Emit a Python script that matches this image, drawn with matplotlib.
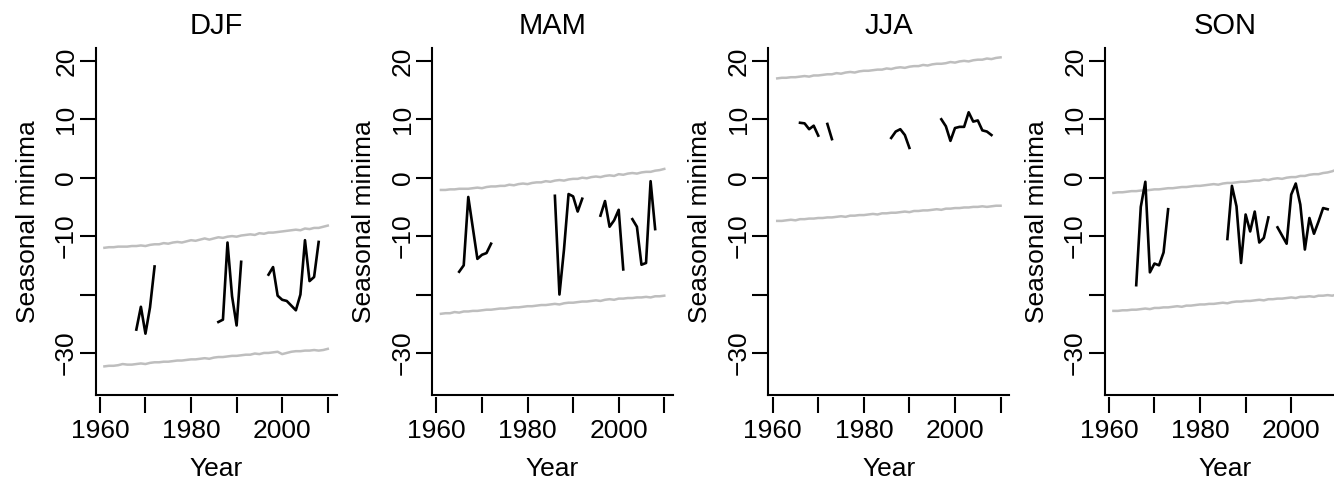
import numpy as np
import matplotlib
matplotlib.use('Agg')
import matplotlib.pyplot as plt

nan = np.nan

years = np.arange(1961, 2011)
seasons = ['DJF', 'MAM', 'JJA', 'SON']

# observed seasonal minima (gaps = missing years)
djf_min = [nan, nan, nan, nan, nan, nan, nan,
           -26.0, -22.1, -26.7, -22.2, -15.2,
           nan, nan, nan, nan, nan, nan, nan, nan, nan, nan, nan, nan, nan,
           -24.7, -24.3, -11.1, -20.3, -25.3, -14.4,
           nan, nan, nan, nan, nan,
           -16.6, -15.3, -20.2, -20.9, -21.1, -21.9, -22.7, -20.0, -10.7, -17.7, -17.0, -11.0,
           nan, nan]
mam_min = [nan, nan, nan, nan,
           -16.1, -15.0, -3.3, -8.6, -13.9, -13.2, -12.9, -11.3,
           nan, nan, nan, nan, nan, nan, nan, nan, nan, nan, nan, nan, nan,
           -3.1, -20.0, -12.3, -2.8, -3.2, -5.8, -3.6,
           nan, nan, nan,
           -6.5, -4.0, -8.4, -7.3, -5.5, -15.7,
           nan,
           -7.1, -8.4, -14.9, -14.6, -0.6, -8.8,
           nan, nan]
jja_min = [nan, nan, nan, nan, nan,
           9.4, 9.3, 8.3, 8.9, 7.2,
           nan,
           9.2, 6.6,
           nan, nan, nan, nan, nan, nan, nan, nan, nan, nan, nan, nan,
           6.8, 7.9, 8.3, 7.3, 5.1,
           nan, nan, nan, nan, nan, nan,
           10.0, 8.8, 6.3, 8.5, 8.7, 8.7, 11.2, 9.6, 9.8, 8.1, 7.9, 7.3,
           nan, nan]
son_min = [nan, nan, nan, nan, nan,
           -18.4, -5.0, -0.7, -16.2, -14.7, -15.0, -12.8, -5.4,
           nan, nan, nan, nan, nan, nan, nan, nan, nan, nan, nan, nan,
           -10.5, -1.4, -4.9, -14.6, -6.3, -9.2, -5.8, -11.1, -10.3, -6.8,
           nan,
           -8.5, -9.9, -11.3, -2.9, -1.0, -4.6, -12.3, -6.9, -9.6, -7.5, -5.2, -5.4,
           nan, nan]

# grey bands (upper / lower bounds)
djf_upper = [-12.0, -11.9, -11.9, -11.8, -11.8, -11.8, -11.7, -11.7, -11.6, -11.7,
             -11.5, -11.4, -11.4, -11.2, -11.3, -11.1, -11.0, -11.1, -10.9, -10.7,
             -10.8, -10.6, -10.4, -10.6, -10.4, -10.2, -10.3, -10.1, -10.0, -10.1,
             -9.9, -9.8, -9.7, -9.8, -9.5, -9.6, -9.4, -9.4, -9.3, -9.2,
             -9.1, -9.0, -8.9, -9.0, -8.7, -8.8, -8.6, -8.6, -8.4, -8.2]
djf_lower = [-32.3, -32.2, -32.2, -32.1, -31.9, -32.0, -32.0, -31.9, -31.8, -31.9,
             -31.7, -31.6, -31.6, -31.5, -31.5, -31.4, -31.3, -31.3, -31.2, -31.1,
             -31.1, -31.0, -30.9, -31.0, -30.8, -30.7, -30.7, -30.6, -30.5, -30.5,
             -30.4, -30.3, -30.3, -30.1, -30.2, -30.0, -30.0, -29.9, -29.8, -30.2,
             -30.0, -29.8, -29.7, -29.7, -29.6, -29.6, -29.5, -29.6, -29.5, -29.3]
mam_upper = [-2.1, -2.1, -2.0, -2.0, -1.9, -1.9, -1.9, -1.8, -1.7, -1.8,
             -1.6, -1.5, -1.5, -1.4, -1.4, -1.2, -1.3, -1.1, -1.0, -1.1,
             -0.9, -0.8, -0.8, -0.6, -0.7, -0.5, -0.4, -0.5, -0.3, -0.2,
             -0.2, 0.0, -0.1, 0.1, 0.2, 0.1, 0.3, 0.4, 0.3, 0.6,
             0.5, 0.7, 0.8, 0.7, 0.9, 1.0, 1.0, 1.2, 1.3, 1.5]
mam_lower = [-23.3, -23.2, -23.2, -23.0, -23.1, -22.9, -22.9, -22.8, -22.8, -22.7,
             -22.6, -22.6, -22.5, -22.4, -22.4, -22.3, -22.2, -22.2, -22.1, -22.0,
             -22.0, -21.9, -21.8, -21.8, -21.7, -21.6, -21.7, -21.5, -21.4, -21.4,
             -21.3, -21.2, -21.2, -21.1, -21.0, -21.1, -20.9, -20.8, -20.9, -20.7,
             -20.7, -20.6, -20.6, -20.5, -20.5, -20.4, -20.5, -20.3, -20.3, -20.2]
jja_upper = [17.0, 17.1, 17.1, 17.2, 17.2, 17.3, 17.4, 17.3, 17.5, 17.5,
             17.6, 17.7, 17.7, 17.9, 17.8, 18.0, 18.1, 18.0, 18.2, 18.3,
             18.3, 18.4, 18.5, 18.5, 18.7, 18.6, 18.8, 18.9, 18.8, 19.0,
             19.1, 19.1, 19.3, 19.2, 19.4, 19.5, 19.5, 19.6, 19.8, 19.7,
             19.9, 20.0, 19.9, 20.1, 20.2, 20.2, 20.4, 20.3, 20.5, 20.6]
jja_lower = [-7.4, -7.4, -7.3, -7.2, -7.3, -7.1, -7.1, -7.0, -7.0, -6.9,
             -6.9, -6.8, -6.8, -6.7, -6.6, -6.7, -6.5, -6.5, -6.4, -6.4,
             -6.3, -6.2, -6.3, -6.1, -6.1, -6.0, -6.0, -5.9, -5.8, -5.9,
             -5.7, -5.7, -5.6, -5.6, -5.5, -5.4, -5.5, -5.3, -5.3, -5.2,
             -5.2, -5.1, -5.1, -5.0, -5.0, -4.9, -5.0, -4.9, -4.8, -4.8]
son_upper = [-2.6, -2.5, -2.5, -2.4, -2.3, -2.3, -2.2, -2.2, -2.1, -2.0,
             -2.0, -1.9, -1.8, -1.8, -1.7, -1.6, -1.6, -1.5, -1.4, -1.4,
             -1.3, -1.2, -1.1, -1.2, -1.0, -0.9, -0.9, -0.8, -0.7, -0.7,
             -0.6, -0.5, -0.5, -0.3, -0.4, -0.2, -0.1, -0.2, 0.0, 0.1,
             0.1, 0.3, 0.3, 0.5, 0.6, 0.6, 0.8, 0.9, 1.1, 1.4]
son_lower = [-22.8, -22.8, -22.7, -22.7, -22.6, -22.6, -22.5, -22.4, -22.5, -22.3,
             -22.3, -22.2, -22.2, -22.1, -22.0, -22.1, -21.9, -21.9, -21.8, -21.7,
             -21.7, -21.6, -21.6, -21.5, -21.4, -21.5, -21.3, -21.2, -21.2, -21.1,
             -21.1, -21.0, -20.9, -21.0, -20.8, -20.8, -20.7, -20.7, -20.6, -20.5,
             -20.6, -20.4, -20.4, -20.3, -20.4, -20.2, -20.2, -20.1, -20.2, -20.0]

minima = [djf_min, mam_min, jja_min, son_min]
uppers = [djf_upper, mam_upper, jja_upper, son_upper]
lowers = [djf_lower, mam_lower, jja_lower, son_lower]

x_ticks = [1960, 1970, 1980, 1990, 2000, 2010]
x_labels = ['1960', '', '1980', '', '2000', '']
y_ticks = [-30, -20, -10, 0, 10, 20]
y_labels = ['\u221230', '', '\u221210', '0', '10', '20']

plt.rcParams['font.family'] = ['Liberation Sans', 'DejaVu Sans']

W, H = 1334.0, 484.0
fig = plt.figure(figsize=(W / 100, H / 100), dpi=100)

lefts = [95.5, 432.0, 768.3, 1104.5]
for i in range(4):
    ax = fig.add_axes([lefts[i] / W, (H - 395) / H, 241.2 / W, 347 / H])
    ax.plot(years, uppers[i], color='#BEBEBE', lw=1.8)
    ax.plot(years, lowers[i], color='#BEBEBE', lw=1.8)
    ax.plot(years, minima[i], color='black', lw=1.9)
    ax.set_xlim(1959.04, 2011.96)
    ax.set_ylim(-37.2, 22.2)

    ax.spines['top'].set_visible(False)
    ax.spines['right'].set_visible(False)
    ax.spines['left'].set_linewidth(1.5)
    # R style: box line, ticks hang from a slightly lower axis line
    ax.spines['bottom'].set_position(('outward', 1.5))
    ax.spines['bottom'].set_color('none')
    ax.plot([0, 1], [0, 0], transform=ax.transAxes, color='black', lw=1.5,
            clip_on=False, solid_capstyle='projecting')

    ax.set_xticks(x_ticks)
    ax.set_xticklabels(x_labels)
    ax.set_yticks(y_ticks)
    ax.set_yticklabels(y_labels, rotation=90, va='center')
    ax.tick_params(axis='both', direction='out', length=11.5, width=1.5,
                   color='black', labelsize=19)
    ax.tick_params(axis='x', pad=4)
    ax.tick_params(axis='y', pad=1)

    ax.set_xlabel('Year', fontsize=19, labelpad=10)
    ax.set_ylabel('Seasonal minima', fontsize=19, labelpad=10.5)
    ax.set_title(seasons[i], fontsize=21, pad=10)

fig.savefig('out.png', dpi=100)
